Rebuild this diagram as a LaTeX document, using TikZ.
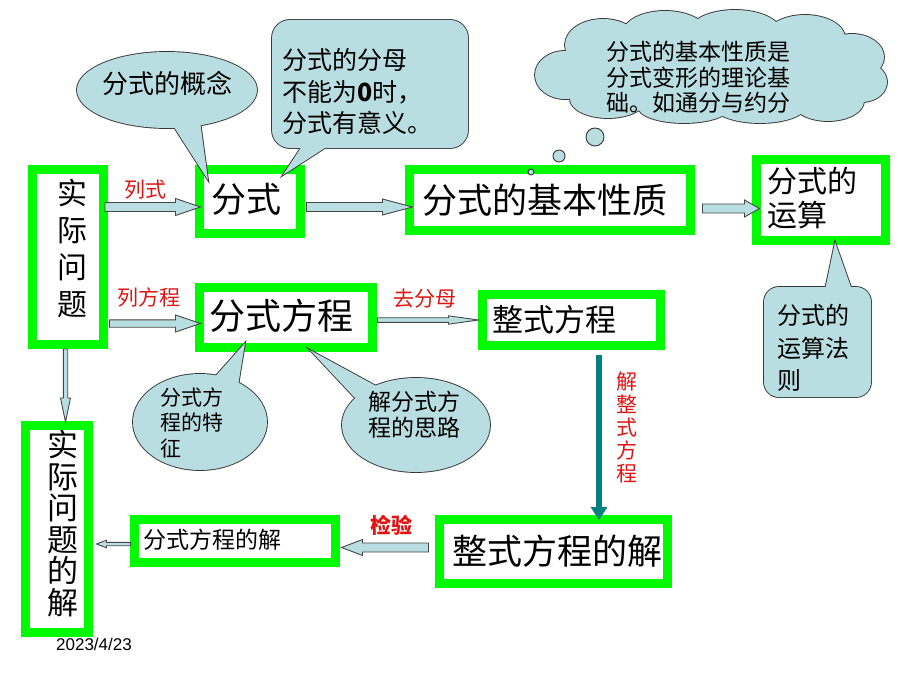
\documentclass[tikz,border=0pt]{standalone}
\usepackage{fontspec}
\setmainfont{Liberation Sans}
\newfontfamily\cjk{Noto Sans CJK SC}
\usetikzlibrary{calc,arrows.meta}
\definecolor{gboxc}{RGB}{0,250,0}
\definecolor{calfill}{RGB}{185,222,226}
\definecolor{calline}{RGB}{55,55,55}
\definecolor{arrfill}{RGB}{185,222,226}
\definecolor{arrline}{RGB}{70,70,70}
\definecolor{labred}{RGB}{225,20,20}
\definecolor{tealarr}{RGB}{0,128,128}
\newcommand\fsz[2]{\fontsize{#1}{#2}\selectfont}
% horizontal block arrow: start, end, half shaft, half head, head length
\newcommand\harr[5]{%
  \draw[barrow] let \p1=#1, \p2=#2, \n1={(\x2-\x1)/abs(\x2-\x1)} in
   (\x1,\y2+#3) -- ({\x2-(\n1)*#5},\y2+#3) -- ({\x2-(\n1)*#5},\y2+#4) -- (\x2,\y2)
   -- ({\x2-(\n1)*#5},\y2-#4) -- ({\x2-(\n1)*#5},\y2-#3) -- (\x1,\y2-#3) -- cycle;}
% vertical block arrow
\newcommand\varr[5]{%
  \draw[barrow] let \p1=#1, \p2=#2, \n1={(\y2-\y1)/abs(\y2-\y1)} in
   (\x2+#3,\y1) -- (\x2+#3,{\y2-(\n1)*#5}) -- (\x2+#4,{\y2-(\n1)*#5}) -- (\x2,\y2)
   -- (\x2-#4,{\y2-(\n1)*#5}) -- (\x2-#3,{\y2-(\n1)*#5}) -- (\x2-#3,\y1) -- cycle;}
% speech bubble: union of two shapes with a single outline
\newcommand\bubble[2]{%
  \draw[calline,line width=1.8pt] #1; \draw[calline,line width=1.8pt] #2;
  \fill[calfill] #1; \fill[calfill] #2;}
\begin{document}
\begin{tikzpicture}[x=1pt,y=-1pt,
  gb/.style={draw=gboxc, line width=9pt, fill=white, inner sep=0pt},
  txt/.style={inner sep=0pt, text=black},
  lab/.style={inner sep=0pt, text=labred, font=\cjk\fsz{21}{23}},
  barrow/.style={draw=arrline, fill=arrfill, line width=0.9pt, line join=miter},
  puff/.style={circle, draw=calline, fill=calfill, line width=0.9pt, inner sep=0pt}]
\useasboundingbox (0,0) rectangle (920,690);
\fill[white] (0,0) rectangle (920,690);

% boxes
\node[gb, minimum width=71, minimum height=175] (sj) at (68,257) {};
\node[gb, minimum width=63, minimum height=207] (sjj) at (57,529) {};
\node[gb, minimum width=101, minimum height=64] (fs) at (250,201.5) {};
\node[gb, minimum width=281, minimum height=61] (jbxz) at (550,200) {};
\node[gb, minimum width=129, minimum height=81] (ys) at (821,200) {};
\node[gb, minimum width=173, minimum height=60] (fsfc) at (286,317.5) {};
\node[gb, minimum width=178, minimum height=51] (zsfc) at (571.5,320) {};
\node[gb, minimum width=228, minimum height=64] (zsj) at (553.5,551.5) {};
\node[gb, minimum width=201, minimum height=43] (fsj) at (235,541) {};

% arrows
\harr{($(sj.east |- fs.west)+(-3,5.5)$)}{($(fs.west)+(5.5,5.5)$)}{4.5pt}{8.5pt}{25pt}
\harr{($(fs.east)+(1.5,5.5)$)}{($(jbxz.west)+(7.5,7)$)}{4.5pt}{8pt}{30pt}
\harr{($(jbxz.east)+(7.5,8.5)$)}{($(ys.west)+(7.5,8.5)$)}{4.5pt}{8.5pt}{15pt}
\harr{($(sj.east |- fsfc.west)+(1.5,6)$)}{($(fsfc.west)+(5.5,6)$)}{3.7pt}{8.5pt}{25pt}
\harr{($(fsfc.east)+(0.5,2.5)$)}{($(zsfc.west)+(0.5,0)$)}{2.3pt}{4.2pt}{30pt}
\varr{($(sj.south)+(-2.5,0)$)}{($(sj.south |- sjj.north)+(-2.5,1)$)}{2.2pt}{5pt}{24pt}
\harr{($(zsj.west)+(-6.5,-4)$)}{($(fsj.east)+(1.5,6.5)$)}{4.5pt}{8pt}{21pt}
\harr{($(fsj.west)+(0.5,3)$)}{($(sjj.east |- fsj.west)+(3.5,3)$)}{1.7pt}{3.8pt}{10pt}
\draw[tealarr, line width=5.5pt, -{Triangle[length=13pt,width=16pt]}]
  ($(zsfc.south)+(27.5,4.5)$) -- ($(zsfc.south |- zsj.north)+(27.5,5)$);

% callouts
\bubble{(167,90) ellipse [x radius=90, y radius=38]}{(172,124) -- (208,180) -- (200,121) -- cycle}
\bubble{[rounded corners=18pt] (272,20) rectangle (468,148)}{(302,146) -- (283,175) -- (328,146) -- cycle}
\bubble{(200,422) ellipse [x radius=67, y radius=48]}{(213,379) -- (245,343) -- (238,386) -- cycle}
\bubble{(416,425) ellipse [x radius=74, y radius=47]}{(355,398) -- (310,350) -- (378,387) -- cycle}
\bubble{[rounded corners=15pt] (764,287) rectangle (871,397)}{(825,290) -- (835,242) -- (852,290) -- cycle}

% thought cloud (union of puffs)
\def\cloudpath{(711,67) ellipse [x radius=150, y radius=40]
  (565,75) ellipse [x radius=30, y radius=24]
  (603,45) ellipse [x radius=38, y radius=26]
  (665,33) ellipse [x radius=42, y radius=22]
  (735,32) ellipse [x radius=46, y radius=22]
  (805,38) ellipse [x radius=40, y radius=23]
  (852,57) ellipse [x radius=32, y radius=23]
  (862,82) ellipse [x radius=25, y radius=20]
  (828,101) ellipse [x radius=36, y radius=20]
  (760,106) ellipse [x radius=46, y radius=17]
  (684,107) ellipse [x radius=46, y radius=16]
  (608,99) ellipse [x radius=38, y radius=19]}
\draw[calline, line width=1.8pt] \cloudpath;
\fill[calfill] \cloudpath;
\node[puff, minimum size=18] (b1) at (595,137) {};
\node[puff, minimum size=12] (b2) at (559,156) {};
\node[puff, minimum size=6] (b3) at (531,172) {};

% texts
\node[txt, font=\cjk\fsz{30}{37}, align=center] (sjT) at (72.5,248.5) {实\\际\\问\\题};
\node[txt, font=\cjk\fsz{31}{31.5}, align=center] (sjjT) at (63,523.5) {实\\际\\问\\题\\的\\解};
\node[txt, font=\cjk\fsz{35}{40}] (fsT) at (246,199) {分式};
\node[txt, font=\cjk\fsz{35}{40}] (jbxzT) at (545,200) {分式的基本性质};
\node[txt, font=\cjk\fsz{30}{34}, align=left, anchor=west] (ysT) at (767,198) {分式的\\运算};
\node[txt, font=\cjk\fsz{36}{40}] (fsfcT) at (281.5,315.5) {分式方程};
\node[txt, font=\cjk\fsz{31}{36}, anchor=west] (zsfcT) at (492,320) {整式方程};
\node[txt, font=\cjk\fsz{35}{40}] (zsjT) at (557.5,551.5) {整式方程的解};
\node[txt, font=\cjk\fsz{23}{28}, anchor=west] (fsjT) at (143,540) {分式方程的解};

\node[txt, font=\cjk\fsz{26}{30}] (c1T) at (167,83) {分式的概念};
\node[txt, font=\cjk\fsz{25}{31.5}, align=left, anchor=west] (c2T) at (282,91.5)
  {分式的分母\\不能为{\bfseries 0}时，\\分式有意义。};
\node[txt, font=\cjk\fsz{23}{25.5}, align=left, anchor=west] (clT) at (606,77.5)
  {分式的基本性质是\\分式变形的理论基\\础。如通分与约分};
\node[txt, font=\cjk\fsz{21}{25.5}, align=left, anchor=west] (c3T) at (160,422.5) {分式方\\程的特\\征};
\node[txt, font=\cjk\fsz{23}{26}, align=left, anchor=west] (c4T) at (368,415) {解分式方\\程的思路};
\node[txt, font=\cjk\fsz{24}{32.5}, align=left, anchor=west] (c5T) at (777,348) {分式的\\运算法\\则};

\node[lab] (l1) at (145,190) {列式};
\node[lab] (l2) at (148.5,298) {列方程};
\node[lab] (l3) at (424.5,299) {去分母};
\node[lab, font=\cjk\bfseries\fsz{21}{23}] (l4) at (391,525) {检验};
\node[lab, align=center] (l5) at (626.5,427.5) {解\\整\\式\\方\\程};

\node[txt, font=\fsz{17}{20}] (date) at (94,644) {2023/4/23};
\end{tikzpicture}
\end{document}
